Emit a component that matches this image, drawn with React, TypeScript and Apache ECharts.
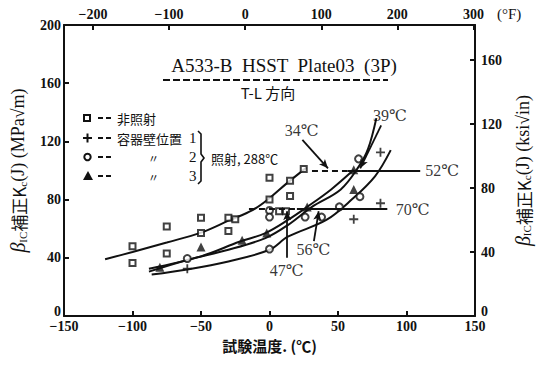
import React, { useEffect, useRef } from 'react';
import * as echarts from 'echarts';

const SERIF = '"Liberation Serif", "DejaVu Serif", "Noto Sans CJK JP", serif';
const CJK = '"Noto Sans CJK JP", "Liberation Serif", serif';
const INK = '#111';

// Axis ticks
const fahrenheitTicks = [-200, -100, 0, 100, 200, 300];

// Measured points: [temperature °C, K (MPa√m)]
const unirradiated = [
  [-100, 48], [-100, 36.5], [-75, 61.5], [-75, 43], [-50, 67.5], [-50, 57],
  [-30, 67.5], [-25, 66.5], [-30, 58.5], [0, 95], [0, 80], [15, 93], [15, 82.5],
  [25, 101], [7, 72], [12, 72],
];
const wallPos1 = [[-60, 32.5], [61.5, 66.5], [81, 77.5], [81, 112.5]];
const wallPos2 = [
  [-60, 39.5], [0, 46], [0, 72.5], [0, 68], [26, 68], [38, 68], [51, 75], [65, 108], [66, 82],
];
const wallPos3 = [[-80, 33.5], [-50, 47.5], [-20, 52], [-2, 57], [27.5, 75], [61.5, 100.5], [61.5, 87]];

// Fitted curves
const curveUnirradiated = [
  [-120, 39], [-100, 44], [-75, 50.5], [-50, 57.3], [-30, 65.5], [-12, 73], [0, 81], [13, 91.5], [27, 102],
];
const curvePos3 = [
  [-88, 32.5], [-50, 41], [-22, 51], [-3, 57], [13.4, 66], [27.5, 75], [45, 87], [61.5, 100.5],
];
const curvePos2 = [
  [-88, 30.5], [-60, 38.5], [-30, 45.5], [-3, 53.5], [13.4, 62.5], [31, 75], [52, 87], [65, 102.5], [72, 115], [78, 136],
];
const curvePos1 = [
  [-86, 28.5], [-60, 32], [-30, 37.5], [0, 45.5], [13.4, 54.5], [41.5, 66], [60, 80], [77, 96], [88.5, 114],
];

// Transition-shift reference levels
const shiftSolid = [
  [[57, 100], [110, 100]],
  [[20, 74], [86, 74]],
];
const shiftDashed = [
  [[31, 100], [57, 100]],
  [[-15, 74], [20, 74]],
];
const shiftArrows = [
  [[24, 121], [42.7, 101.5]],
  [[81.5, 131], [66.2, 101.5]],
  [[12.9, 40], [12.9, 72]],
  [[32.4, 51.5], [35.9, 72]],
];
const shiftLabels = ['34℃', '39℃', '52℃', '70℃', '47℃', '56℃'];
const shiftLabelPos = [[23.5, 127.8], [88, 137.8], [126, 100.3], [104.5, 73], [12.5, 31.6], [32, 45.4]];

const minus = (v: number) => (v < 0 ? '−' + Math.abs(v) : String(v));

const segs = (list: number[][][]) =>
  list.map(([a, b]) => [{ coord: a }, { coord: b }]);

const PLUS = 'path://M4,0H6V4H10V6H6V10H4V6H0V4H4Z';

export default function App() {
  const ref = useRef<HTMLDivElement>(null);

  useEffect(() => {
    if (!ref.current) return;
    const chart = echarts.init(ref.current, null, { renderer: 'svg' });

    const curve = (data: number[][]) => ({
      type: 'line',
      data,
      smooth: 0.35,
      symbol: 'none',
      lineStyle: { color: INK, width: 2 },
      silent: true,
      z: 2,
    });

    const axisLabel = { color: INK, fontFamily: SERIF, fontSize: 14, fontWeight: 'bold' as const };
    const axisLine = { show: true, onZero: false, lineStyle: { color: INK, width: 2 } };
    const axisTick = { show: true, inside: true, length: 5, lineStyle: { color: INK, width: 2 } };

    const richName = {
      b: { fontFamily: SERIF, fontStyle: 'italic', fontSize: 20, color: INK },
      s: { fontFamily: SERIF, fontSize: 11, color: INK, padding: [9, 0, 0, 0] },
      t: { fontFamily: CJK, fontSize: 17, color: INK },
      u: { fontFamily: SERIF, fontSize: 18, color: INK },
    };
    // lift the zero label so it clears the bottom axis labels
    const yLabelFmt = (v: number) => (v === 0 ? '{z|0}' : String(v));
    const yLabelRich = { z: { padding: [0, 0, 10, 0], fontFamily: SERIF, fontSize: 14, fontWeight: 'bold', color: INK } };

    const legendRowY = [118, 138, 157, 176];
    const legend: any[] = [];
    legend.push({ type: 'rect', shape: { x: 84, y: legendRowY[0] - 3, width: 6, height: 6 }, style: { fill: '#fff', stroke: INK, lineWidth: 2 } });
    legend.push({ type: 'line', shape: { x1: 83, y1: legendRowY[1], x2: 92, y2: legendRowY[1] }, style: { stroke: INK, lineWidth: 2 } });
    legend.push({ type: 'line', shape: { x1: 87.5, y1: legendRowY[1] - 4.5, x2: 87.5, y2: legendRowY[1] + 4.5 }, style: { stroke: INK, lineWidth: 2 } });
    legend.push({ type: 'circle', shape: { cx: 87.5, cy: legendRowY[2], r: 3.2 }, style: { fill: '#fff', stroke: INK, lineWidth: 2 } });
    legend.push({ type: 'polygon', shape: { points: [[88, legendRowY[3] - 5], [83, legendRowY[3] + 4], [93, legendRowY[3] + 4]] }, style: { fill: INK } });
    legendRowY.forEach((y) => {
      legend.push({ type: 'line', shape: { x1: 98, y1: y, x2: 103, y2: y }, style: { stroke: INK, lineWidth: 2 } });
      legend.push({ type: 'line', shape: { x1: 106, y1: y, x2: 111, y2: y }, style: { stroke: INK, lineWidth: 2 } });
    });
    const txt = (x: number, y: number, text: string, size = 14, family = CJK, align = 'left') => ({
      type: 'text',
      x,
      y,
      style: { text, fontFamily: family, fontSize: size, fill: INK, textAlign: align, textVerticalAlign: 'middle' },
    });
    legend.push(txt(117, legendRowY[0], '非照射', 13));
    legend.push(txt(117, legendRowY[1], '容器壁位置', 13));
    legend.push(txt(189, legendRowY[1], '1', 15, SERIF));
    legend.push(txt(148, legendRowY[2] + 1, '〃', 11));
    legend.push(txt(189, legendRowY[2], '2', 15, SERIF));
    legend.push(txt(148, legendRowY[3] + 1, '〃', 11));
    legend.push(txt(189, legendRowY[3], '3', 15, SERIF));
    legend.push({
      type: 'polyline',
      shape: { points: [[198, 131], [201, 134], [201, 154], [204, 158], [201, 162], [201, 181], [198, 184]] },
      style: { stroke: INK, lineWidth: 1.6, fill: 'none' },
    });
    legend.push(txt(211, 158, '照射, 288℃', 13));

    const option: any = {
      animation: false,
      backgroundColor: '#fff',
      grid: { left: 58, right: 58, top: 25, bottom: 50, containLabel: false },
      xAxis: [
        {
          type: 'value',
          position: 'bottom',
          min: -150,
          max: 150,
          interval: 50,
          axisLine,
          axisTick,
          splitLine: { show: false },
          axisLabel: { ...axisLabel, margin: 3, formatter: minus },
          name: '試験温度. (℃)',
          nameLocation: 'middle',
          nameGap: 16,
          nameTextStyle: { fontFamily: CJK, fontSize: 15, color: INK, fontWeight: 'bold' },
        },
        {
          type: 'value',
          position: 'top',
          min: -238,
          max: 302,
          axisLine,
          axisTick: { ...axisTick, customValues: fahrenheitTicks },
          splitLine: { show: false },
          axisLabel: {
            ...axisLabel,
            margin: 4,
            customValues: fahrenheitTicks,
            formatter: minus,
          },
        },
      ],
      yAxis: [
        {
          type: 'value',
          position: 'left',
          min: 0,
          max: 200,
          interval: 40,
          axisLine,
          axisTick,
          splitLine: { show: false },
          axisLabel: { ...axisLabel, margin: 3, formatter: yLabelFmt, rich: yLabelRich },
          name: '{b|β}{s|IC}{t|補正K}{s|c}{u|(J) (MPa√m)}',
          nameLocation: 'middle',
          nameGap: 36,
          nameRotate: 90,
          nameTextStyle: { rich: richName },
        },
        {
          type: 'value',
          position: 'right',
          min: 0,
          max: 182,
          interval: 40,
          axisLine,
          axisTick,
          splitLine: { show: false },
          axisLabel: { ...axisLabel, margin: 6, showMaxLabel: false, formatter: yLabelFmt, rich: yLabelRich },
          name: '{b|β}{s|IC}{t|補正K}{s|c}{u|(J) (ksi√in)}',
          nameLocation: 'middle',
          nameGap: 38,
          nameRotate: 90,
          nameTextStyle: { rich: richName },
        },
      ],
      graphic: [
        txt(284, 65, 'A533-B  HSST  Plate03  (3P)', 19, SERIF, 'center'),
        {
          type: 'line',
          shape: { x1: 163, y1: 80, x2: 388, y2: 80 },
          style: { stroke: INK, lineWidth: 2, lineDash: [7, 3] },
        },
        txt(268, 92, 'T-L 方向', 15, CJK, 'center'),
        txt(497, 14, '(°F)', 15, SERIF, 'left'),
        ...legend,
      ],
      series: [
        curve(curveUnirradiated),
        curve(curvePos3),
        curve(curvePos2),
        curve(curvePos1),
        {
          type: 'scatter',
          data: unirradiated,
          symbol: 'rect',
          symbolSize: 6,
          itemStyle: { color: '#fff', borderColor: INK, borderWidth: 2 },
          z: 4,
        },
        {
          type: 'scatter',
          data: wallPos1,
          symbol: PLUS,
          symbolSize: 9,
          itemStyle: { color: INK },
          z: 4,
        },
        {
          type: 'scatter',
          data: wallPos2,
          symbol: 'circle',
          symbolSize: 7,
          itemStyle: { color: '#fff', borderColor: INK, borderWidth: 2 },
          z: 4,
        },
        {
          type: 'scatter',
          data: wallPos3,
          symbol: 'triangle',
          symbolSize: 9,
          itemStyle: { color: INK },
          z: 4,
        },
        {
          type: 'scatter',
          data: [],
          silent: true,
          markLine: {
            silent: true,
            symbol: ['none', 'none'],
            label: { show: false },
            lineStyle: { color: INK, width: 2, type: 'solid' },
            data: segs(shiftSolid),
          },
        },
        {
          type: 'scatter',
          data: [],
          silent: true,
          markLine: {
            silent: true,
            symbol: ['none', 'none'],
            label: { show: false },
            lineStyle: { color: INK, width: 2, type: [6, 4] },
            data: segs(shiftDashed),
          },
        },
        {
          type: 'scatter',
          data: [],
          silent: true,
          markLine: {
            silent: true,
            symbol: ['none', 'arrow'],
            symbolSize: [6, 9],
            label: { show: false },
            lineStyle: { color: INK, width: 1.8, type: 'solid' },
            data: segs(shiftArrows),
          },
        },
        {
          type: 'scatter',
          silent: true,
          symbolSize: 0.1,
          itemStyle: { color: '#fff' },
          data: shiftLabels.map((name, i) => ({ name, value: shiftLabelPos[i] })),
          label: {
            show: true,
            position: 'inside',
            formatter: '{b}',
            fontFamily: SERIF,
            fontSize: 16,
            color: '#000',
            textBorderWidth: 0,
          },
          z: 5,
        },
      ],
    };

    chart.setOption(option);
    return () => chart.dispose();
  }, []);

  return (
    <div
      ref={ref}
      style={{ position: 'fixed', left: 0, top: 0, width: 541, height: 366, background: '#fff' }}
    />
  );
}
